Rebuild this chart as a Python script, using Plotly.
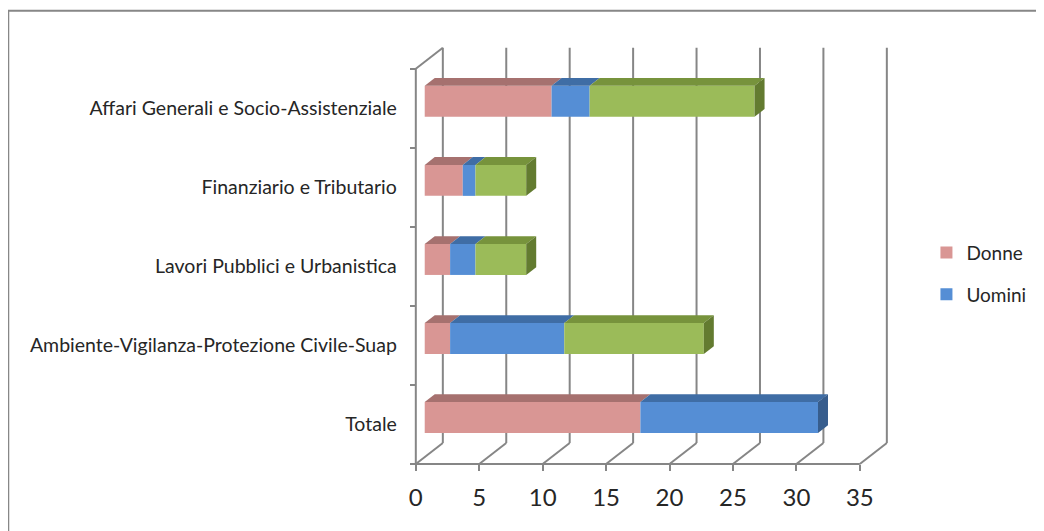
import plotly.graph_objects as go

categories = ["Totale",
              "Ambiente-Vigilanza-Protezione Civile-Suap",
              "Lavori Pubblici e Urbanistica",
              "Finanziario e Tributario",
              "Affari Generali e Socio-Assistenziale"]
donne = [17, 2, 2, 3, 10]
uomini = [14, 9, 2, 1, 3]
totale = [0, 11, 4, 4, 13]
x_ticks = [0, 5, 10, 15, 20, 25, 30, 35]

series = [
    ("Donne", donne, "#D99694", "#A6716F", "#8E5C5A", True),
    ("Uomini", uomini, "#558ED5", "#3F6DA5", "#375D8D", True),
    ("Totale", totale, "#9BBB59", "#77933C", "#637B30", False),
]

# depth of the pseudo-3D box (in data units)
DX, DY = 2.13, 0.266
F0, F1 = 0.33, 0.70
HALF = 0.196
GRID = "#868686"

fig = go.Figure()
shapes = []

# back wall gridlines, floor diagonals
for v in x_ticks:
    shapes.append(dict(type="line", xref="x", yref="y", x0=v + DX, x1=v + DX,
                       y0=-0.5 + DY, y1=4.5 + DY, line=dict(color=GRID, width=2), layer="below"))
    shapes.append(dict(type="line", xref="x", yref="y", x0=v, x1=v + DX,
                       y0=-0.5, y1=-0.5 + DY, line=dict(color=GRID, width=2), layer="below"))
# front floor edge and left wall
shapes.append(dict(type="line", xref="x", yref="y", x0=0, x1=x_ticks[-1], y0=-0.5, y1=-0.5,
                   line=dict(color=GRID, width=2), layer="below"))
shapes.append(dict(type="line", xref="x", yref="y", x0=0, x1=0, y0=-0.5, y1=4.5,
                   line=dict(color=GRID, width=2), layer="below"))
shapes.append(dict(type="line", xref="x", yref="y", x0=0, x1=DX, y0=4.5, y1=4.5 + DY,
                   line=dict(color=GRID, width=2), layer="below"))

ox, oy = F0 * DX, F0 * DY
tdx, tdy = (F1 - F0) * DX, (F1 - F0) * DY
ypos = [i + oy for i in range(len(categories))]

cum = [0] * len(categories)
last_end = [None] * len(categories)
for name, vals, front, top, side, leg in series:
    bases = [c + ox for c in cum]
    fig.add_trace(go.Bar(orientation="h", y=ypos, x=vals, base=bases, name=name,
                         marker=dict(color=front, line=dict(width=0)), width=2 * HALF,
                         showlegend=leg, legendgroup=name))
    for i, v in enumerate(vals):
        if v <= 0:
            continue
        s, e = bases[i], bases[i] + v
        yt, yb = ypos[i] + HALF, ypos[i] - HALF
        shapes.append(dict(type="path", xref="x", yref="y",
                           path=f"M{s},{yt} L{e},{yt} L{e+tdx},{yt+tdy} L{s+tdx},{yt+tdy} Z",
                           fillcolor=top, line=dict(width=0), layer="above"))
        last_end[i] = (e, yt, yb, side)
    cum = [c + v for c, v in zip(cum, vals)]

for item in last_end:
    if item:
        e, yt, yb, side = item
        shapes.append(dict(type="path", xref="x", yref="y",
                           path=f"M{e},{yb} L{e},{yt} L{e+tdx},{yt+tdy} L{e+tdx},{yb+tdy} Z",
                           fillcolor=side, line=dict(width=0), layer="above"))

# outer chart border
shapes.append(dict(type="rect", xref="paper", yref="paper", x0=-0.8464, x1=1.4, y0=-0.3, y1=1.081,
                   line=dict(color="#878787", width=2), layer="below"))

fig.update_layout(
    width=1044, height=531,
    margin=dict(l=404.2, r=163.4, t=37.3, b=71.05, pad=0),
    plot_bgcolor="white", paper_bgcolor="white",
    barmode="overlay",
    shapes=shapes,
    font=dict(family="Lato", color="#262626"),
    xaxis=dict(range=[-0.3, 37.3], tickvals=x_ticks, ticktext=[str(t) for t in x_ticks],
               ticks="outside", ticklen=6, tickwidth=2, tickcolor=GRID,
               showgrid=False, zeroline=False, showline=False, ticklabelstandoff=6,
               anchor="free", position=0.00935, tickfont=dict(size=24)),
    yaxis=dict(range=[-0.55, 4.8], tickvals=list(range(len(categories))), ticktext=categories,
               ticks="", showgrid=False, zeroline=False, showline=False,
               anchor="free", position=0.008, ticklabelstandoff=19,
               minor=dict(tickvals=[-0.5, 0.5, 1.5, 2.5, 3.5, 4.5], ticks="outside",
                          ticklen=6, tickwidth=2, tickcolor=GRID),
               tickfont=dict(size=19.5)),
    legend=dict(x=1.0785, y=0.554, xanchor="left", yanchor="top",
                font=dict(size=19), tracegroupgap=14, bgcolor="rgba(0,0,0,0)"),
    showlegend=True,
)

fig.write_html("out.html")
